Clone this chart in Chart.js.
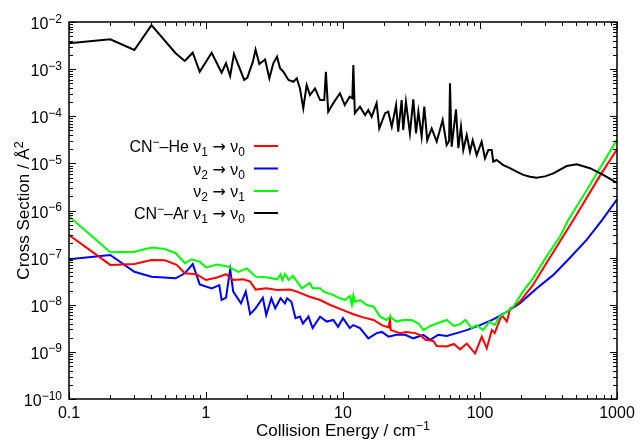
<!DOCTYPE html>
<html><head><meta charset="utf-8">
<script src="https://cdn.jsdelivr.net/npm/chart.js@4/dist/chart.umd.min.js"></script>
<style>html,body{margin:0;padding:0;background:#fff}</style>
</head><body>
<canvas id="c" width="641" height="441"></canvas>
<script>
// ---- data ----
const heV10_x = [0.1,0.2,0.3,0.4,0.5,0.61,0.7,0.85,1.0,1.2,1.4,1.58,1.87,2.1,2.3,2.75,3.3,4.1,4.6,5.7,6.8,8.0,10,11.9,14,16.7,19.2,21.5,22,22.3,26,29,33.5,36.3,40,45.6,48.3,57,64.3,71.5,80,92,103,112,122,128,136,144,157,166,175,195,243,305,383,480,752,1000];
const heV10_y = [3.0e-7,7.0e-8,7.3e-8,8.9e-8,8.8e-8,7.0e-8,4.65e-8,4.45e-8,3.35e-8,3.8e-8,4.45e-8,3.35e-8,3.47e-8,3.1e-8,2.1e-8,2.23e-8,2.05e-8,2.1e-8,1.9e-8,1.48e-8,1.26e-8,1.0e-8,7.7e-9,6.3e-9,5.4e-9,4.75e-9,3.7e-9,3.3e-9,4.75e-9,2.9e-9,2.5e-9,2.65e-9,2.5e-9,2.3e-9,1.8e-9,1.7e-9,1.33e-9,1.3e-9,1.47e-9,1.13e-9,1.5e-9,9.3e-10,2.1e-9,1.19e-9,2.9e-9,2.5e-9,4.0e-9,6.05e-9,4.4e-9,8.4e-9,9.1e-9,1.15e-8,2.6e-8,7.6e-8,2.2e-7,6.3e-7,5.5e-6,2.0e-5];

const heV20_x = [0.1,0.2,0.3,0.4,0.6,0.7,0.8,0.9,1.1,1.25,1.3,1.4,1.5,1.58,1.8,1.95,2.1,2.3,2.6,2.75,3.0,3.2,3.5,3.77,3.9,4.2,4.5,4.85,5.1,5.6,6.0,6.8,7.6,8.5,9.2,10,11.2,11.9,13.3,15.3,17.6,19.2,21.5,24.5,28.4,32.6,38.6,43.3,49.5,57,67.5,80,100,125,157,195,260,343,450,600,780,1000];
const heV20_y = [9.2e-8,1.14e-7,5.0e-8,3.95e-8,3.64e-8,4.65e-8,7.3e-8,2.7e-8,2.23e-8,2.6e-8,1.26e-8,1.41e-8,5.65e-8,1.9e-8,1.07e-8,1.9e-8,6.3e-9,8.4e-9,1.41e-8,6.05e-9,1.37e-8,8.4e-9,1.37e-8,1.07e-8,1.37e-8,1.16e-8,5.2e-9,5.6e-9,4.0e-9,5.6e-9,3.2e-9,5.6e-9,4.4e-9,4.75e-9,3.4e-9,5.2e-9,3.2e-9,3.7e-9,3.2e-9,1.94e-9,2.5e-9,2.65e-9,2.1e-9,2.3e-9,2.3e-9,1.94e-9,2.3e-9,1.8e-9,2.3e-9,2.17e-9,2.5e-9,2.9e-9,3.7e-9,4.9e-9,7.1e-9,1.07e-8,2.23e-8,4.3e-8,9.7e-8,2.37e-7,6.3e-7,1.73e-6];

const heV21_x = [0.1,0.2,0.3,0.4,0.5,0.6,0.7,0.78,0.9,1.0,1.2,1.45,1.72,1.98,2.3,2.75,3.3,3.5,3.6,3.77,4.0,4.3,5.0,5.7,6.0,6.8,7.2,8.5,9.5,10.3,11.2,11.6,11.9,12.2,13.3,14.9,16.7,18.6,20.8,22,24.5,27.5,31.6,35.5,38.6,43.3,48.3,57,64.3,71.5,78,86.5,94.6,105,117,128,138,157,175,205,243,305,383,440,600,1000];
const heV21_y = [7.5e-7,1.3e-7,1.33e-7,1.63e-7,1.52e-7,1.24e-7,7.6e-8,9.2e-8,8.2e-8,6.2e-8,7.1e-8,6.4e-8,5.0e-8,5.9e-8,3.95e-8,3.85e-8,3.47e-8,4.45e-8,3.35e-8,4.5e-8,3.35e-8,4.1e-8,2.23e-8,2.9e-8,2.23e-8,2.23e-8,1.9e-8,1.6e-8,1.37e-8,1.26e-8,1.53e-8,9.9e-9,1.6e-8,1.16e-8,1.26e-8,9.9e-9,9.1e-9,5.6e-9,4.75e-9,5.6e-9,4.4e-9,4.75e-9,4.75e-9,4.0e-9,2.9e-9,3.55e-9,4.0e-9,4.75e-9,3.55e-9,3.9e-9,4.75e-9,3.2e-9,3.7e-9,2.9e-9,4.4e-9,3.7e-9,5.6e-9,7.1e-9,9.1e-9,1.9e-8,3.64e-8,1.05e-7,2.8e-7,6.3e-7,2.7e-6,3.2e-5];

const arV10_x = [0.1,0.2,0.3,0.4,0.6,0.7,0.8,0.9,1.1,1.3,1.4,1.5,1.6,1.9,2.0,2.2,2.3,2.45,2.7,2.9,3.1,3.3,3.47,3.67,4.0,4.34,4.6,4.85,5.13,5.43,5.74,6.25,6.8,7.3,7.5,7.8,8.5,9.5,10.3,11.2,11.7,11.9,12.2,13.3,14.5,15.3,16.2,17.6,18.4,20.3,21.4,22.7,24.4,25.3,26.8,27.5,28.8,30.8,32.6,34.1,35.5,37.5,39.2,41.2,44.4,48.3,53.4,57.1,59.5,60.4,62.1,66.8,69.5,72.6,75.5,80,84.5,88.5,94.6,102.8,108.7,115,121.7,125,132,148,165.5,185,207,232,259,298,343,384,430,508,635,794,1000];
const arV10_y = [3.53e-3,4.3e-3,2.55e-3,8.6e-3,2.17e-3,1.49e-3,2.23e-3,8.8e-4,2.23e-3,8.4e-4,1.33e-3,7.1e-4,2.1e-3,5.9e-4,6.5e-4,1.44e-3,2.6e-3,1.28e-3,1.6e-3,6.4e-4,1.33e-3,1.84e-3,1.04e-3,8.8e-4,5.9e-4,5.4e-4,6.4e-4,3.9e-4,1.48e-4,4.6e-4,2.8e-4,3.9e-4,2.2e-4,2.2e-4,8.8e-4,1.25e-4,1.9e-4,3.07e-4,1.73e-4,2.6e-4,2.4e-4,1.22e-3,1.16e-4,1.6e-4,1.06e-4,1.36e-4,9.8e-5,1.9e-4,5.5e-5,1.16e-4,1.25e-4,6.0e-5,1.73e-4,4.7e-5,2.2e-4,5.1e-5,2.04e-4,4.35e-5,2.29e-4,4.35e-5,1.25e-4,3.7e-5,1.6e-4,3.1e-5,5.5e-5,2.9e-5,8.3e-5,2.45e-5,3.0e-5,5.0e-4,2.26e-5,1.4e-4,2.1e-5,6.0e-5,1.92e-5,4.0e-5,1.77e-5,3.1e-5,1.5e-5,2.9e-5,1.28e-5,1.92e-5,1.92e-5,1.09e-5,1.18e-5,9.2e-6,7.9e-6,6.7e-6,5.7e-6,5.2e-6,4.97e-6,5.3e-6,6.15e-6,7.4e-6,8.8e-6,9.55e-6,7.9e-6,5.7e-6,3.84e-6];

const seriesNames = ['CN\u207B\u2013He \u03BD\u2081 \u2192 \u03BD\u2080', '\u03BD\u2082 \u2192 \u03BD\u2080', '\u03BD\u2082 \u2192 \u03BD\u2081', 'CN\u207B\u2013Ar \u03BD\u2081 \u2192 \u03BD\u2080'];
const seriesColors = ['#ff0000', '#0000ff', '#00ff00', '#000000'];
// rich-text legend labels: [text, kind]  kind n=normal, sup, sub, sym
const legendRich = [
  [['CN','n'],['\u2212','sup'],['\u2013He \u03BD','n'],['1','sub'],[' ','n'],['\u2192','sym'],[' \u03BD','n'],['0','sub']],
  [['\u03BD','n'],['2','sub'],[' ','n'],['\u2192','sym'],[' \u03BD','n'],['0','sub']],
  [['\u03BD','n'],['2','sub'],[' ','n'],['\u2192','sym'],[' \u03BD','n'],['1','sub']],
  [['CN','n'],['\u2212','sup'],['\u2013Ar \u03BD','n'],['1','sub'],[' ','n'],['\u2192','sym'],[' \u03BD','n'],['0','sub']]
];
const xTickValues = [0.1, 1, 10, 100, 1000];
const xTickLabels = ['0.1', '1', '10', '100', '1000'];
const yTickExponents = [-10, -9, -8, -7, -6, -5, -4, -3, -2];
const xTitle = [['Collision Energy / cm','n'],['\u22121','sup']];
const yTitle = [['Cross Section / \u00C5','n'],['2','sup']];

// ---- drawing helpers ----
const FONT = '"Liberation Sans", Arial, Helvetica, sans-serif';
function setFont(ctx, k, big){
  const fs = big ? 17 : 16, fss = big ? 12.5 : 12;
  if (k === 'sym') ctx.font = fs + 'px "DejaVu Sans", sans-serif';
  else ctx.font = (k === 'n' ? fs : fss) + 'px ' + FONT;
}
function richWidth(ctx, parts, big){ let w = 0; for (const [t,k] of parts){ setFont(ctx,k,big); w += ctx.measureText(t).width; } return w; }
function drawRich(ctx, parts, x, y, align, big){
  const w = richWidth(ctx, parts, big);
  let cx = align === 'right' ? x - w : (align === 'center' ? x - w/2 : x);
  ctx.textAlign = 'left'; ctx.textBaseline = 'alphabetic';
  for (const [t,k] of parts){
    setFont(ctx,k,big);
    const dy = k === 'sup' ? -6.5 : (k === 'sub' ? 4 : 0);
    ctx.fillText(t, cx, y + dy);
    cx += ctx.measureText(t).width;
  }
}

const frame = {
  id: 'gnuframe',
  afterDatasetsDraw(chart){
    const {ctx, chartArea: a, scales: {x, y}} = chart;
    ctx.save();
    ctx.strokeStyle = '#000'; ctx.fillStyle = '#000'; ctx.lineWidth = 1;
    // x ticks (inward, mirrored on top)
    ctx.beginPath();
    for (let d = -1; d <= 3; d++){
      for (let m = 1; m <= 9; m++){
        const v = m * Math.pow(10, d);
        if (v < 0.1 || v > 1000) continue;
        const px = Math.round(x.getPixelForValue(v)) + 0.5;
        const len = m === 1 ? 7 : 4;
        ctx.moveTo(px, a.bottom); ctx.lineTo(px, a.bottom - len);
        ctx.moveTo(px, a.top); ctx.lineTo(px, a.top + len);
      }
    }
    for (let d = -10; d <= -2; d++){
      for (let m = 1; m <= 9; m++){
        const v = m * Math.pow(10, d);
        if (v > 1.0001e-2) continue;
        const py = Math.round(y.getPixelForValue(v)) + 0.5;
        const len = m === 1 ? 7 : 4;
        ctx.moveTo(a.left, py); ctx.lineTo(a.left + len, py);
        ctx.moveTo(a.right, py); ctx.lineTo(a.right - len, py);
      }
    }
    ctx.stroke();
    ctx.lineWidth = 1.5;
    ctx.strokeRect(a.left, a.top, a.right - a.left, a.bottom - a.top);

    // x tick labels
    ctx.textAlign = 'center'; ctx.textBaseline = 'alphabetic';
    ctx.font = '16px ' + FONT;
    xTickValues.forEach((v, i) => {
      ctx.fillText(xTickLabels[i], x.getPixelForValue(v), a.bottom + 19);
    });
    // y tick labels 10^n
    yTickExponents.forEach(e => {
      const py = y.getPixelForValue(Math.pow(10, e));
      drawRich(ctx, [['10','n'],['\u2212' + (-e),'sup']], a.left - 7, py + 7, 'right');
    });
    // axis titles
    drawRich(ctx, xTitle, (a.left + a.right) / 2, 436, 'center', true);
    ctx.save();
    ctx.translate(29, (a.top + a.bottom) / 2);
    ctx.rotate(-Math.PI / 2);
    drawRich(ctx, yTitle, 0, 0, 'center', true);
    ctx.restore();

    // legend
    const rows = [146, 168.5, 191, 213];
    legendRich.forEach((parts, i) => {
      drawRich(ctx, parts, 245, rows[i] + 6, 'right');
      ctx.strokeStyle = seriesColors[i]; ctx.lineWidth = 2;
      ctx.beginPath(); ctx.moveTo(254, rows[i]); ctx.lineTo(278, rows[i]); ctx.stroke();
    });
    ctx.restore();
  }
};

function pts(xs, ys){ return xs.map((v, i) => ({x: v, y: ys[i]})); }

new Chart(document.getElementById('c'), {
  type: 'line',
  data: {
    datasets: [
      {label: seriesNames[0], data: pts(heV10_x, heV10_y), borderColor: seriesColors[0], order: 3},
      {label: seriesNames[1], data: pts(heV20_x, heV20_y), borderColor: seriesColors[1], order: 4},
      {label: seriesNames[2], data: pts(heV21_x, heV21_y), borderColor: seriesColors[2], order: 2},
      {label: seriesNames[3], data: pts(arV10_x, arV10_y), borderColor: seriesColors[3], order: 1}
    ].map(d => Object.assign(d, {borderWidth: 2, pointRadius: 0, tension: 0, fill: false}))
  },
  options: {
    responsive: false, animation: false, devicePixelRatio: 1,
    layout: {padding: {left: 69, right: 24, top: 22, bottom: 42}},
    plugins: {legend: {display: false}, tooltip: {enabled: false}},
    scales: {
      x: {type: 'logarithmic', min: 0.1, max: 1000, display: false},
      y: {type: 'logarithmic', min: 1e-10, max: 1e-2, display: false}
    }
  },
  plugins: [frame]
});
</script>
</body></html>
